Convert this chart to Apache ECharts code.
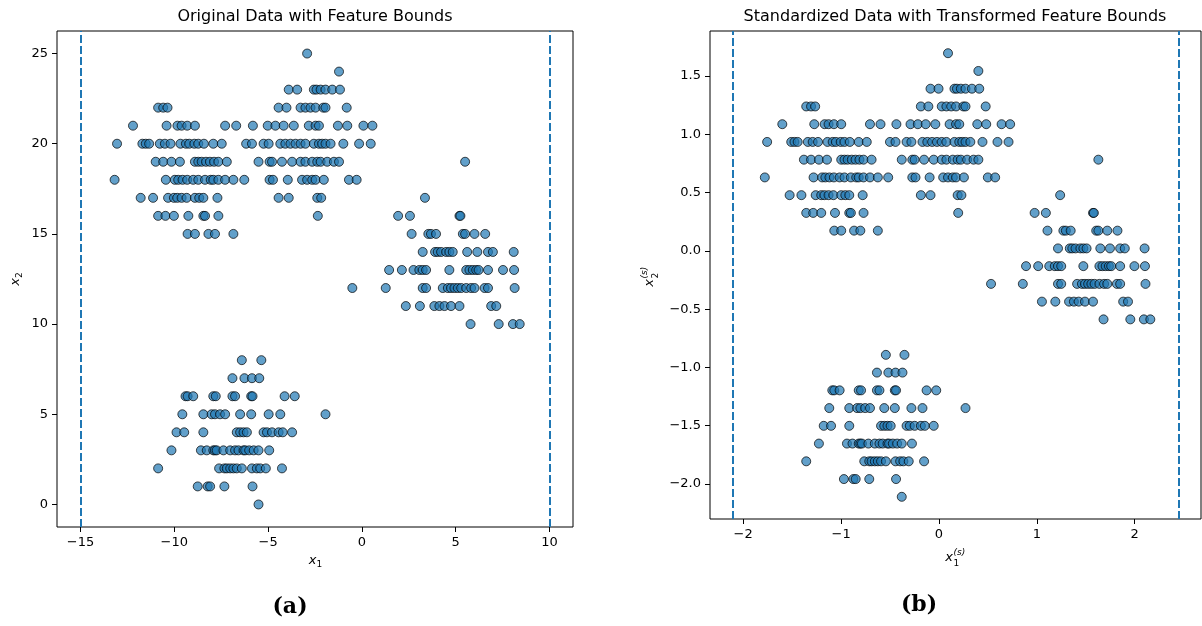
<!DOCTYPE html>
<html>
<head>
<meta charset="utf-8">
<title>Feature bounds</title>
<script src="https://cdn.jsdelivr.net/npm/echarts@6/dist/echarts.min.js"></script>
<style>
  html, body { margin: 0; padding: 0; background: #fff; }
  #chart { width: 1202px; height: 626px; }
</style>
</head>
<body>
<div id="chart"></div>
<script>
// points, grouped by cluster: [x2, [x1 values on that row]]
const upperLeft = [
  [22, [-10.86, -10.59, -10.36]],
  [21, [-12.20, -10.41, -9.83, -9.61, -9.31, -8.90, -7.29, -6.70]],
  [20, [-13.05, -11.70, -11.52, -11.34, -10.77, -10.50, -10.20, -9.67, -9.38, -9.20, -8.93, -8.72, -8.42, -7.92, -7.47, -6.17]],
  [19, [-10.99, -10.59, -10.15, -9.70, -8.90, -8.72, -8.54, -8.31, -8.10, -7.88, -7.65, -7.20]],
  [18, [-13.18, -10.45, -9.97, -9.79, -9.56, -9.31, -8.99, -8.72, -8.36, -8.06, -7.92, -7.65, -7.29, -6.85, -6.27]],
  [17, [-11.79, -11.13, -10.33, -10.02, -9.84, -9.61, -9.34, -8.90, -8.67, -8.45, -7.70]],
  [16, [-10.86, -10.47, -10.02, -9.25, -8.45, -8.36, -7.65]],
  [15, [-9.29, -8.90, -8.18, -7.83, -6.85]]
]
const upperMid = [
  [25, [-2.92]],
  [24, [-1.22]],
  [23, [-3.90, -3.45, -2.56, -2.42, -2.20, -1.94, -1.58, -1.17]],
  [22, [-4.44, -4.02, -3.27, -3.01, -2.74, -2.47, -2.06, -1.94, -0.81]],
  [21, [-5.81, -5.02, -4.61, -4.17, -3.63, -2.83, -2.47, -2.29, -1.28, -0.78, 0.08, 0.56]],
  [20, [-5.86, -5.24, -4.97, -4.35, -4.08, -3.81, -3.54, -3.27, -3.01, -2.56, -2.29, -2.12, -1.94, -1.67, -0.99, -0.15, 0.47]],
  [19, [-5.51, -4.92, -4.79, -4.26, -3.72, -3.27, -3.01, -2.65, -2.38, -2.20, -1.85, -1.49, -1.22]],
  [18, [-4.92, -4.74, -3.95, -3.19, -2.92, -2.65, -2.47, -2.03, -0.69, -0.28]],
  [17, [-4.44, -3.90, -2.38, -2.17]],
  [16, [-2.35]]
]
const rightGroup = [
  [19, [5.50]],
  [17, [3.36]],
  [16, [1.93, 2.56, 5.20, 5.25]],
  [15, [2.65, 3.54, 3.68, 3.95, 5.38, 5.50, 6.00, 6.57]],
  [14, [3.24, 3.90, 4.04, 4.22, 4.49, 4.66, 4.84, 5.61, 6.15, 6.72, 6.98, 8.09]],
  [13, [1.45, 2.13, 2.75, 3.06, 3.24, 3.42, 4.66, 5.56, 5.73, 5.91, 6.09, 6.22, 6.72, 7.52, 8.11]],
  [12, [-0.51, 1.27, 3.24, 3.42, 4.31, 4.58, 4.75, 4.93, 5.11, 5.29, 5.56, 5.82, 6.00, 6.54, 6.72, 8.14]],
  [11, [2.34, 3.09, 3.86, 4.13, 4.40, 4.75, 5.20, 6.89, 7.16]],
  [10, [5.79, 7.29, 8.05, 8.41]]
]
const lowerGroup = [
  [8, [-6.40, -5.36]],
  [7, [-6.90, -6.26, -5.86, -5.47]],
  [6, [-9.40, -9.29, -8.99, -7.92, -7.79, -6.90, -6.76, -5.90, -5.83, -4.12, -3.58]],
  [5, [-9.57, -8.45, -8.01, -7.83, -7.56, -7.29, -6.49, -5.90, -4.97, -4.35, -1.94]],
  [4, [-9.88, -9.47, -8.45, -6.67, -6.49, -6.31, -6.13, -5.24, -5.06, -4.79, -4.44, -4.22, -3.72]],
  [3, [-10.15, -8.58, -8.27, -7.92, -7.83, -7.74, -7.38, -7.02, -6.76, -6.58, -6.31, -6.22, -6.01, -5.77, -5.51, -4.94]],
  [2, [-10.86, -7.61, -7.33, -7.20, -7.02, -6.85, -6.67, -6.40, -5.86, -5.60, -5.42, -5.12, -4.26]],
  [1, [-8.75, -8.22, -8.09, -7.33, -5.83]],
  [0, [-5.51]]
]

const featureBounds = [-15, 10]
// mean / std of the features (b) axes
const x1Mean = -3.427, x1Std = 5.482
const x2Mean = 13.86, x2Std = 6.567

const xTicksA = [-15, -10, -5, 0, 5, 10]
const yTicksA = [0, 5, 10, 15, 20, 25]
const xTicksB = [-2, -1, 0, 1, 2]
const yTicksB = [-2, -1.5, -1, -0.5, 0, 0.5, 1, 1.5]

const blue = '#1f77b4'
const font = '"DejaVu Sans", sans-serif'

function flatten(rows) {
    const out = []
    rows.forEach(([y, xs]) => xs.forEach(x => out.push([x, y])))
    return out
}
const original = [].concat(flatten(upperLeft), flatten(upperMid), flatten(rightGroup), flatten(lowerGroup))
const standardized = original.map(([a, b]) => [(a - x1Mean) / x1Std, (b - x2Mean) / x2Std])
const boundsStd = featureBounds.map(v => (v - x1Mean) / x1Std)

const minus = s => String(s).replace('-', '\u2212')

function axis(gridIndex, min, max, ticks, fmt) {
    return {
        type: 'value',
        gridIndex: gridIndex,
        min: min,
        max: max,
        axisLine: { show: false, onZero: false },
        splitLine: { show: false },
        axisTick: { show: true, customValues: ticks, length: 5, lineStyle: { color: '#000', width: 1 } },
        axisLabel: { customValues: ticks, formatter: fmt, margin: 9, fontSize: 13, fontFamily: font, color: '#000' }
    }
}

function scatter(idx, data, bounds) {
    return {
        type: 'scatter',
        xAxisIndex: idx,
        yAxisIndex: idx,
        data: data,
        symbolSize: 9,
        itemStyle: { color: blue, borderColor: '#000', borderWidth: 1, opacity: 0.7 },
        silent: true,
        markLine: {
            silent: true,
            symbol: ['none', 'none'],
            label: { show: false },
            lineStyle: { color: blue, width: 2, type: [8, 3], opacity: 1 },
            data: bounds.map(b => ({ xAxis: b }))
        }
    }
}

function txt(x, y, text, fnt, align, extra) {
    return Object.assign({
        type: 'text', x: x, y: y, silent: true,
        style: { text: text, font: fnt, fill: '#000', textAlign: align || 'center', textVerticalAlign: 'middle' }
    }, extra || {})
}

const chart = echarts.init(document.getElementById('chart'))
chart.setOption({
    animation: false,
    backgroundColor: '#fff',
    grid: [
        { left: 57, top: 31, width: 516, height: 496, show: true, borderColor: '#000', borderWidth: 1, backgroundColor: 'transparent' },
        { left: 710, top: 31, width: 491, height: 488, show: true, borderColor: '#000', borderWidth: 1, backgroundColor: 'transparent' }
    ],
    xAxis: [
        axis(0, -16.25, 11.25, xTicksA, v => minus(v)),
        axis(1, -2.339, 2.677, xTicksB, v => minus(v))
    ],
    yAxis: [
        axis(0, -1.25, 26.25, yTicksA, v => minus(v)),
        axis(1, -2.301, 1.887, yTicksB, v => minus(v.toFixed(1)))
    ],
    series: [
        scatter(0, original, featureBounds),
        scatter(1, standardized, boundsStd)
    ],
    graphic: [
        txt(315, 17, 'Original Data with Feature Bounds', '16px ' + font),
        txt(955, 17, 'Standardized Data with Transformed Feature Bounds', '16px ' + font),
        // x1 label
        txt(312.5, 561, 'x', 'italic 13px ' + font),
        txt(316.5, 565, '1', '9px ' + font, 'left'),
        // x2 label (rotated)
        {
            type: 'group', x: 16, y: 280, rotation: Math.PI / 2, silent: true,
            children: [
                txt(-2, 0, 'x', 'italic 13px ' + font),
                txt(2, 4, '2', '9px ' + font, 'left')
            ]
        },
        // x1^(s) label
        txt(949, 558, 'x', 'italic 13px ' + font),
        txt(953.5, 553, '(s)', 'italic 9px ' + font, 'left'),
        txt(953.5, 564, '1', '9px ' + font, 'left'),
        // x2^(s) label (rotated)
        {
            type: 'group', x: 650, y: 278, rotation: Math.PI / 2, silent: true,
            children: [
                txt(-5, 0, 'x', 'italic 13px ' + font),
                txt(-0.5, -5, '(s)', 'italic 9px ' + font, 'left'),
                txt(-0.5, 6, '2', '9px ' + font, 'left')
            ]
        },
        txt(290, 607, '(a)', 'bold 22px "DejaVu Serif", serif'),
        txt(919, 605, '(b)', 'bold 22px "DejaVu Serif", serif')
    ]
})
</script>
</body>
</html>
